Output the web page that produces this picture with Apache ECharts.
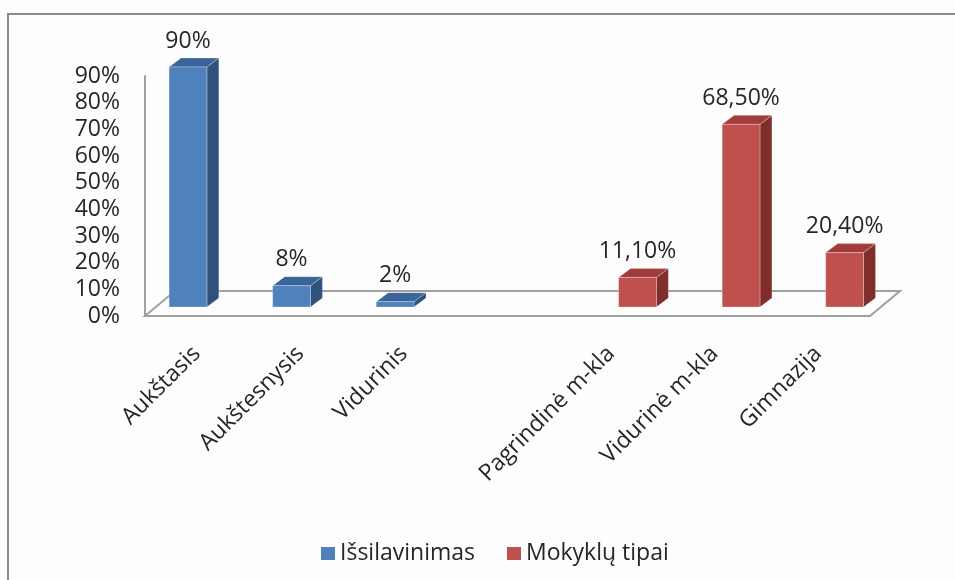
<!DOCTYPE html>
<html>
<head>
<meta charset="utf-8">
<script src="https://cdn.jsdelivr.net/npm/echarts@6/dist/echarts.min.js"></script>
<style>
  html, body { margin: 0; padding: 0; background: #fdfdfd; }
  #main { width: 955px; height: 580px; }
</style>
</head>
<body>
<div id="main"></div>
<script>
// duomenys
var categories = ['Aukštasis', 'Aukštesnysis', 'Vidurinis', '', 'Pagrindinė m-kla', 'Vidurinė m-kla', 'Gimnazija'];
var seriesNames = ['Išsilavinimas', 'Mokyklų tipai'];
var education = [90, 8, 2, null, null, null, null];
var schoolTypes = [null, null, null, null, 11.1, 68.5, 20.4];
var yTicks = [0, 10, 20, 30, 40, 50, 60, 70, 80, 90];

var FONT = '"Open Sans", "Liberation Sans", sans-serif';
var DX = 12, DY = 9, LIFT = 9;

function toPairs(arr) {
  var out = [];
  arr.forEach(function (v, i) { if (v != null) out.push([i, v]); });
  return out;
}

// 3D stulpelis: priekis, šonas, viršus
function bar3d(offset, colors, fmt) {
  return function (params, api) {
    var idx = api.value(0), val = api.value(1);
    var base = api.coord([idx, 0]);
    var top = api.coord([idx, val]);
    var band = api.size([1, 0])[0];
    var w = band * 0.365;
    var cx = base[0] + band * offset;
    var x0 = cx - w / 2, x1 = cx + w / 2;
    var yb = base[1] - LIFT, yt = top[1] - LIFT;
    return {
      type: 'group',
      children: [
        { type: 'polygon', shape: { points: [[x1, yb], [x1, yt], [x1 + DX, yt - DY], [x1 + DX, yb - DY]] },
          style: { fill: colors[2], stroke: 'rgba(255,255,255,0.35)', lineWidth: 0.8 } },
        { type: 'polygon', shape: { points: [[x0, yt], [x1, yt], [x1 + DX, yt - DY], [x0 + DX, yt - DY]] },
          style: { fill: colors[1], stroke: 'rgba(255,255,255,0.35)', lineWidth: 0.8 } },
        { type: 'rect', shape: { x: x0, y: yt, width: w, height: yb - yt },
          style: { fill: colors[0], stroke: 'rgba(255,255,255,0.35)', lineWidth: 0.8 } },
        { type: 'text', style: { text: fmt(val), x: cx, y: yt - 26, align: 'center', verticalAlign: 'middle',
          fontSize: 23, fontFamily: FONT, fill: '#262626' } }
      ]
    };
  };
}

var chart = echarts.init(document.getElementById('main'));

var option = {
  backgroundColor: '#fdfdfd',
  animation: false,
  graphic: [
    { type: 'polyline', shape: { points: [[8, 580], [8, 14], [955, 14]] },
      style: { stroke: '#8a8a8a', lineWidth: 2, fill: 'none' } }
  ],
  legend: {
    data: seriesNames,
    left: 316,
    top: 537,
    icon: 'rect',
    itemWidth: 14,
    itemHeight: 13,
    itemGap: 32,
    textStyle: { fontSize: 23, fontFamily: FONT, color: '#262626' }
  },
  grid: { left: 145, right: 85, top: 76, bottom: 264 },
  xAxis: {
    type: 'category',
    data: categories,
    axisLine: { show: false },
    axisTick: { show: false },
    axisLabel: { interval: 0, rotate: 45, margin: 34, fontSize: 23, fontFamily: FONT, color: '#262626' }
  },
  yAxis: {
    type: 'value',
    min: yTicks[0],
    max: yTicks[yTicks.length - 1],
    interval: 10,
    axisLine: { show: true, lineStyle: { color: '#a0a0a0', width: 2 } },
    axisTick: { show: false },
    splitLine: { show: false },
    axisLabel: { formatter: '{value}%', margin: 25, fontSize: 23, fontFamily: FONT, color: '#262626' }
  },
  series: [
    {
      name: 'floor',
      type: 'custom',
      silent: true,
      z: 1,
      data: [[0, 0]],
      renderItem: function (params, api) {
        var cs = params.coordSys;
        var yf = cs.y + cs.height, xl = cs.x, xr = cs.x + cs.width;
        return {
          type: 'polygon',
          shape: { points: [[xl, yf], [xr, yf], [xr + 30, yf - 25], [xl + 30, yf - 25]] },
          style: { fill: 'none', stroke: '#a0a0a0', lineWidth: 2 }
        };
      }
    },
    {
      name: seriesNames[0],
      type: 'custom',
      z: 2,
      itemStyle: { color: '#4f81bd' },
      data: toPairs(education),
      renderItem: bar3d(-0.085, ['#4f81bd', '#3b659a', '#2f527d'], function (v) { return v + '%'; })
    },
    {
      name: seriesNames[1],
      type: 'custom',
      z: 2,
      itemStyle: { color: '#c0504d' },
      data: toPairs(schoolTypes),
      renderItem: bar3d(0.255, ['#c0504d', '#a23c3a', '#7f2e2c'], function (v) { return v.toFixed(2).replace('.', ',') + '%'; })
    }
  ]
};

chart.setOption(option);
</script>
</body>
</html>
